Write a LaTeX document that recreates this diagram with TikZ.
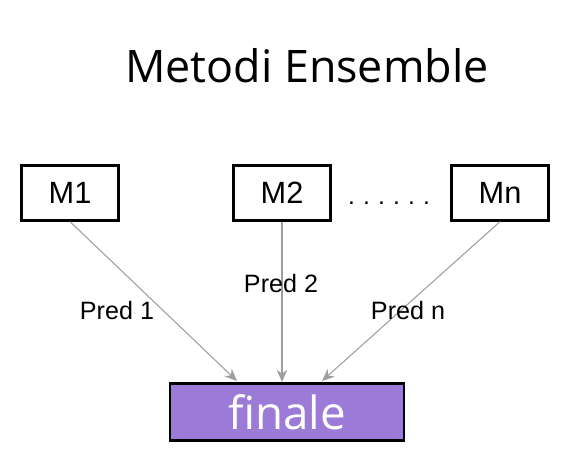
\documentclass[tikz,border=0pt]{standalone}
\usepackage{fontspec}
\setmainfont{Open Sans}
\newfontfamily\labelfont{Liberation Sans}
\usetikzlibrary{arrows.meta}
\definecolor{arrowgray}{HTML}{9E9E9E}
\definecolor{finpurple}{HTML}{9C7BD8}

\begin{document}
\begin{tikzpicture}[x=0.02cm,y=-0.02cm,
    modelbox/.style={draw=black,line width=1.3pt,minimum width=1.94cm,minimum height=1.1cm,inner sep=0pt,font=\labelfont\fontsize{17.5}{20}\selectfont},
    predlabel/.style={font=\labelfont\fontsize{14.3}{16}\selectfont},
    predarrow/.style={draw=arrowgray,line width=0.6pt,-{Stealth[length=7pt,width=6pt]}}]
            \useasboundingbox (0,0) rectangle (580,455);
            \node[font=\fontsize{25.5}{30}\selectfont] (title) at (307,66) {Metodi Ensemble};
            % modelli base
            \node[modelbox] (m1) at (70,193) {M1};
            \node[modelbox] (m2) at (282,193) {M2};
            \node[modelbox] (mn) at (500,193) {Mn};
            \node[font=\labelfont\fontsize{14}{16}\selectfont] (dots) at (389,203) {.\,\,.\,\,.\,\,.\,\,.\,\,.};
            % combinazione finale
            \node[draw=black,line width=1.3pt,fill=finpurple,minimum width=4.68cm,minimum height=1.14cm,inner sep=0pt,text=white,font=\fontsize{26}{30}\selectfont] (fin) at (287,412) {finale};
            \coordinate (t1) at (237,381); \coordinate (t2) at (282,382); \coordinate (tn) at (322,381);
            \draw[predarrow] (m1.south) -- (t1);
            \draw[predarrow] (m2.south) -- (t2);
            \draw[predarrow] (mn.south) -- (tn);
            \node[predlabel] (p1) at (117,311) {Pred 1};
            \node[predlabel] (p2) at (281,284) {Pred 2};
            \node[predlabel] (pn) at (408,311) {Pred n};
        \end{tikzpicture}
\end{document}
